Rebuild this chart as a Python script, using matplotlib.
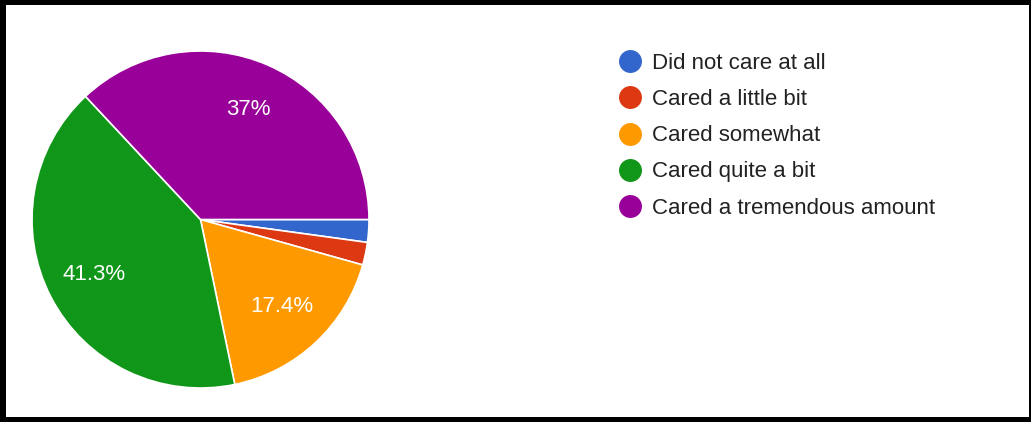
import matplotlib
matplotlib.use("Agg")
import matplotlib.pyplot as plt
from matplotlib.lines import Line2D

# survey answers (count out of 46)
labels = ["Did not care at all", "Cared a little bit", "Cared somewhat",
          "Cared quite a bit", "Cared a tremendous amount"]
counts = [1, 1, 8, 19, 17]
colors = ["#3366cc", "#dc3912", "#ff9900", "#109618", "#990099"]

plt.rcParams["font.family"] = ["Liberation Sans", "DejaVu Sans"]

W, H = 1031, 422
fig = plt.figure(figsize=(W / 100, H / 100), dpi=100, facecolor="black")

# white panel inside the black frame
bg = fig.add_axes([6 / W, 5 / H, (1029 - 6) / W, (417 - 5) / H])
bg.set_facecolor("white")
bg.set_xticks([])
bg.set_yticks([])
for s in bg.spines.values():
    s.set_visible(False)

# pie
r_px = 168.5
cx, cy = 200.5, 422 - 219.5
ax = fig.add_axes([(cx - r_px) / W, (cy - r_px) / H, 2 * r_px / W, 2 * r_px / H])


def pct_label(p):
    return f"{p:.3g}%" if p > 5 else ""


wedges, texts, autotexts = ax.pie(
    counts, colors=colors, startangle=0, counterclock=False,
    autopct=pct_label, pctdistance=0.71,
    wedgeprops=dict(edgecolor="white", linewidth=1.2),
    textprops=dict(color="white", fontsize=16),
)
ax.set_xlim(-1, 1)
ax.set_ylim(-1, 1)
ax.set_aspect("equal")

# legend
handles = [Line2D([], [], marker="o", linestyle="none", markersize=15.5,
                  markerfacecolor=c, markeredgecolor=c) for c in colors]
fig.legend(handles, labels, loc="upper left",
           bbox_to_anchor=(608 / W, 1 - 42 / H), frameon=False,
           fontsize=16, labelcolor="#222222", handletextpad=0.49,
           labelspacing=0.68, handlelength=1.0, borderpad=0)

fig.savefig("out.png", dpi=100, facecolor=fig.get_facecolor())
